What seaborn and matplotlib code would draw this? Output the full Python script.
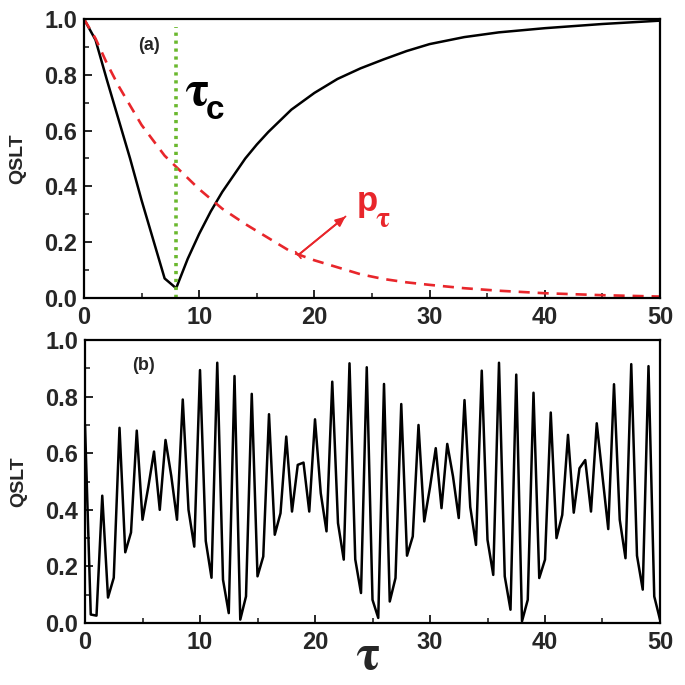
import numpy as np
import pandas as pd
import matplotlib
matplotlib.use("Agg")
import matplotlib.pyplot as plt
import seaborn as sns

# ---------------- data ----------------
# panel (a): black QSLT curve
tau_a = [0, 1, 2, 3, 4, 5, 6, 7, 8, 9, 10, 11, 12, 13, 14, 15, 16, 18, 20, 22,
         24, 26, 28, 30, 33, 36, 40, 45, 50]
qslt_a = [1.0, 0.925, 0.78, 0.64, 0.50, 0.35, 0.21, 0.07, 0.035, 0.14, 0.23,
          0.31, 0.38, 0.44, 0.50, 0.55, 0.595, 0.675, 0.735, 0.785, 0.823,
          0.855, 0.885, 0.91, 0.935, 0.952, 0.967, 0.982, 0.994]

# panel (a): red dashed p_tau
tau_p = [0, 1, 2, 3, 4, 5, 6, 7, 8, 9, 10, 11, 12, 14, 16, 18, 20, 22, 24, 26,
         28, 30, 33, 36, 40, 45, 50]
p_tau = [1.0, 0.93, 0.84, 0.76, 0.69, 0.62, 0.565, 0.51, 0.47, 0.43, 0.39,
         0.355, 0.32, 0.265, 0.215, 0.165, 0.135, 0.11, 0.085, 0.068, 0.056,
         0.047, 0.035, 0.026, 0.017, 0.01, 0.005]

tau_c = 8.0

# panel (b): oscillating QSLT, tau = 0, 0.5, ..., 50
tau_b = list(np.linspace(0, 50, 101))
qslt_b = [0.70, 0.03, 0.026, 0.45, 0.09, 0.16, 0.69, 0.25, 0.32, 0.68,
          0.365, 0.48, 0.606, 0.40, 0.647, 0.52, 0.365, 0.79, 0.40, 0.27,
          0.894, 0.29, 0.16, 0.92, 0.153, 0.035, 0.873, 0.012, 0.094, 0.81,
          0.165, 0.235, 0.738, 0.312, 0.388, 0.659, 0.394, 0.559, 0.567, 0.394,
          0.72, 0.459, 0.324, 0.853, 0.353, 0.224, 0.918, 0.225, 0.106, 0.904,
          0.082, 0.018, 0.845, 0.076, 0.159, 0.774, 0.238, 0.306, 0.70, 0.359,
          0.48, 0.618, 0.406, 0.633, 0.518, 0.371, 0.788, 0.41, 0.276, 0.892,
          0.294, 0.17, 0.92, 0.165, 0.047, 0.878, 0.006, 0.082, 0.814, 0.159,
          0.224, 0.744, 0.30, 0.382, 0.665, 0.39, 0.547, 0.576, 0.394, 0.706,
          0.518, 0.332, 0.844, 0.365, 0.229, 0.915, 0.238, 0.118, 0.908, 0.094,
          0.012]

x_ticks = [0, 10, 20, 30, 40, 50]
y_ticks = [0.0, 0.2, 0.4, 0.6, 0.8, 1.0]

# ---------------- style ----------------
sns.set_theme(style="ticks")
plt.rcParams["font.family"] = ["Liberation Sans", "DejaVu Sans"]
plt.rcParams["font.weight"] = "bold"

RED = "#e8262b"
GREEN = "#6ab82e"
TICK_FS = 17
LAB_FS = 14
GREEK = "STIXGeneral"

fig = plt.figure(figsize=(6.85, 6.85), dpi=100)
ax1 = fig.add_axes([0.1226, 0.565, 0.841, 0.4073])
ax2 = fig.add_axes([0.1241, 0.0905, 0.8394, 0.413])

df_a = pd.DataFrame({"tau": tau_a, "q": qslt_a})
df_p = pd.DataFrame({"tau": tau_p, "p": p_tau})
df_b = pd.DataFrame({"tau": tau_b, "q": qslt_b})

sns.lineplot(data=df_a, x="tau", y="q", ax=ax1, color="black", lw=1.8,
             estimator=None, sort=False)
sns.lineplot(data=df_p, x="tau", y="p", ax=ax1, color=RED, lw=1.9,
             estimator=None, sort=False, linestyle=(0, (4.2, 3)))
ax1.plot([tau_c, tau_c], [0, 0.97], color=GREEN, lw=2.6, linestyle=(0, (0.9, 1.3)))

sns.lineplot(data=df_b, x="tau", y="q", ax=ax2, color="black", lw=1.8,
             estimator=None, sort=False)

for ax in (ax1, ax2):
    ax.set_xlim(0, 50)
    ax.set_ylim(0, 1.0)
    ax.set_xticks(x_ticks)
    ax.set_yticks(y_ticks)
    ax.set_xticks([5, 15, 25, 35, 45], minor=True)
    ax.set_yticks(np.arange(0.1, 1.0, 0.2), minor=True)
    ax.set_xticklabels([str(t) for t in x_ticks], fontsize=TICK_FS, fontweight="bold")
    ax.set_yticklabels([f"{t:.1f}" for t in y_ticks], fontsize=TICK_FS, fontweight="bold")
    ax.tick_params(which="major", direction="in", length=6, width=1.4,
                   top=False, right=False)
    ax.tick_params(which="minor", direction="in", length=3.5, width=1.2,
                   top=False, right=False)
    ax.tick_params(axis="x", which="major", pad=6)
    ax.tick_params(axis="y", which="major", pad=5)
    for s in ax.spines.values():
        s.set_linewidth(1.6)
        s.set_color("black")
    ax.set_ylabel("QSLT", fontsize=LAB_FS, fontweight="bold")
    ax.set_xlabel("")

ax1.yaxis.set_label_coords(-0.1, 0.5)
ax2.yaxis.set_label_coords(-0.1, 0.5)

# annotations panel (a)
ax1.text(5.6, 0.905, "(a)", fontsize=13, fontweight="bold", ha="center", va="center")
ax1.text(8.7, 0.69, "\u03c4", fontsize=36, family=GREEK, fontweight="bold",
         color="black", ha="left", va="baseline")
ax1.text(10.6, 0.64, "c", fontsize=24, fontweight="bold", color="black",
         ha="left", va="baseline")
ax1.text(23.7, 0.31, "p", fontsize=25, fontweight="bold", color=RED,
         ha="left", va="baseline")
ax1.text(25.3, 0.255, "\u03c4", fontsize=21, family=GREEK, fontweight="bold",
         color=RED, ha="left", va="baseline")
ax1.annotate("", xy=(22.7, 0.292), xytext=(18.6, 0.154),
             arrowprops=dict(arrowstyle="-|>,head_length=0.5,head_width=0.22",
                             color=RED, lw=1.3, shrinkA=0, shrinkB=0))
ax1.annotate("", xy=(22.7, 0.292), xytext=(18.6, 0.154),
             arrowprops=dict(arrowstyle="]-,widthA=0.25,lengthA=0",
                             color=RED, lw=1.3, shrinkA=0, shrinkB=0))

# panel (b)
ax2.text(5.07, 0.91, "(b)", fontsize=13, fontweight="bold", ha="center", va="center")
fig.text(367 / 685, 1 - 657 / 685, "\u03c4", fontsize=36, family=GREEK,
         fontweight="bold", ha="center", va="center")

fig.savefig("out.png", dpi=100)
